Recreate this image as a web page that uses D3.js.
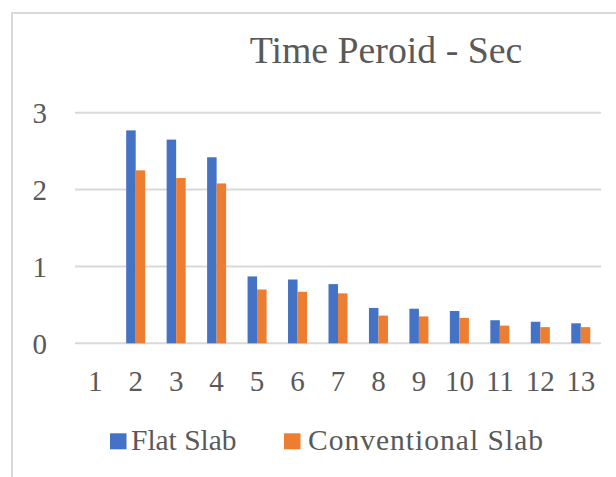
<!DOCTYPE html>
<html>
<head>
<meta charset="utf-8">
<script src="https://cdn.jsdelivr.net/npm/d3@7"></script>
<style>
  html, body { margin: 0; padding: 0; background: #fff; }
  svg { display: block; }
</style>
</head>
<body>
<svg id="chart" width="616" height="477" font-family="Liberation Serif" fill="#595959"></svg>
<script>
// Time period (s) per mode for both slab systems
const modes = ["1", "2", "3", "4", "5", "6", "7", "8", "9", "10", "11", "12", "13"];
const flatSlab = [0, 2.77, 2.65, 2.42, 0.87, 0.83, 0.77, 0.46, 0.45, 0.42, 0.30, 0.28, 0.26];
const conventionalSlab = [0, 2.25, 2.15, 2.08, 0.70, 0.67, 0.65, 0.36, 0.35, 0.33, 0.23, 0.21, 0.21];
const seriesNames = ["Flat Slab", "Conventional Slab"];
const seriesColors = ["#4472C4", "#ED7D31"];
const yTicks = [0, 1, 2, 3];
const title = "Time Peroid - Sec";

const FONT = "Liberation Serif";
const TEXT_COLOR = "#595959";

const svg = d3.select("#chart");

function styleText(sel, size) {
  sel.attr("font-family", FONT)
    .attr("font-size", size)
    .attr("fill", TEXT_COLOR)
    .style("font-family", "'Liberation Serif', serif")
    .style("font-size", size + "px");
}

// Outer chart frame (runs off the right and bottom edges)
svg.append("rect")
  .attr("x", 12).attr("y", 13)
  .attr("width", 640).attr("height", 500)
  .attr("fill", "none")
  .attr("stroke", "#d9d9d9")
  .attr("stroke-width", 2);

const plot = { left: 75, right: 601, top: 112.7, bottom: 343.3 };

const x0 = d3.scaleBand()
  .domain(modes)
  .range([plot.left, plot.right])
  .paddingInner(0.53)
  .paddingOuter(0.265);

const x1 = d3.scaleBand()
  .domain(seriesNames)
  .range([0, x0.bandwidth()]);

const y = d3.scaleLinear()
  .domain([0, 3])
  .range([plot.bottom, plot.top]);

// Horizontal gridlines
svg.append("g")
  .selectAll("line")
  .data(yTicks)
  .join("line")
  .attr("x1", plot.left).attr("x2", plot.right)
  .attr("y1", d => y(d)).attr("y2", d => y(d))
  .attr("stroke", "#d9d9d9")
  .attr("stroke-width", 2);

// Y axis labels
const yAxis = d3.axisLeft(y).tickValues(yTicks).tickFormat(d3.format("d")).tickSize(0).tickPadding(0);
const gy = svg.append("g").attr("transform", "translate(47,0)").call(yAxis);
gy.attr("font-family", FONT).attr("font-size", 29);
gy.select(".domain").remove();
gy.selectAll("text").call(styleText, 29).attr("dy", "0.34em");

// X axis labels
const xAxis = d3.axisBottom(x0).tickSize(0).tickPadding(0);
const gx = svg.append("g").attr("transform", `translate(0,${plot.bottom})`).call(xAxis);
gx.attr("font-family", FONT).attr("font-size", 29);
gx.select(".domain").remove();
gx.selectAll("text").call(styleText, 29).attr("dy", null).attr("y", 47.5);

// Bars
const rows = modes.map((m, i) => ({ mode: m, values: [flatSlab[i], conventionalSlab[i]] }));
svg.append("g")
  .selectAll("g")
  .data(rows)
  .join("g")
  .attr("transform", d => `translate(${x0(d.mode)},0)`)
  .selectAll("rect")
  .data(d => d.values.map((v, j) => ({ key: seriesNames[j], value: v, color: seriesColors[j] })))
  .join("rect")
  .attr("x", d => x1(d.key))
  .attr("width", x1.bandwidth())
  .attr("y", d => y(d.value))
  .attr("height", d => y(0) - y(d.value))
  .attr("fill", d => d.color);

// Title
svg.append("text")
  .attr("x", 386).attr("y", 62.5)
  .attr("text-anchor", "middle")
  .call(styleText, 37.8)
  .text(title);

// Legend
const legendItems = [
  { name: seriesNames[0], color: seriesColors[0], x: 110, textX: 21, len: 105.5 },
  { name: seriesNames[1], color: seriesColors[1], x: 284, textX: 24, len: 235 }
];
const lg = svg.append("g").selectAll("g").data(legendItems).join("g")
  .attr("transform", d => `translate(${d.x},0)`);
lg.append("rect")
  .attr("x", 0).attr("y", 433.3)
  .attr("width", 16.5).attr("height", 16)
  .attr("fill", d => d.color);
lg.append("text")
  .attr("x", d => d.textX)
  .attr("y", 450)
  .call(styleText, 29.5)
  .attr("textLength", d => d.len)
  .attr("lengthAdjust", "spacing")
  .text(d => d.name);
</script>
</body>
</html>
